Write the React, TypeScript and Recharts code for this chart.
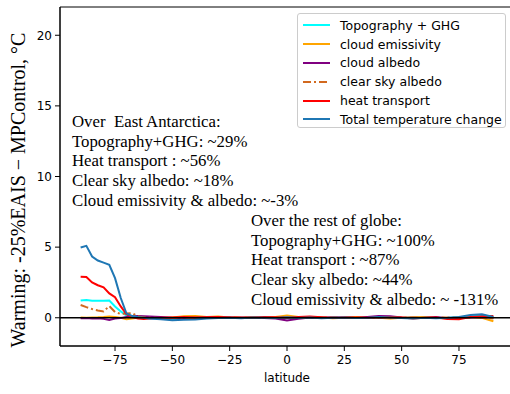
import { LineChart, Line, XAxis, YAxis, ReferenceLine, ReferenceArea } from "recharts";

const latitudes = [
  -90, -87.5, -85, -82.5, -80, -77.5, -75, -72.5, -70, -67.5, -65, -62.5,
  -60, -55, -50, -45, -40, -35, -30, -25, -20, -15, -10, -5, 0, 5, 10, 15,
  20, 25, 30, 35, 40, 45, 50, 55, 60, 65, 70, 75, 80, 85, 90,
];

const topoGhg = [
  1.22, 1.25, 1.2, 1.2, 1.2, 1.22, 0.8, 0.45, 0.15, 0.02, 0.0, -0.02,
  -0.03, -0.05, -0.08, -0.05, -0.03, 0.0, 0.02, 0.0, -0.02, 0.0, 0.02, 0.0, -0.03, 0.0, 0.02, 0.0,
  -0.02, 0.0, 0.02, 0.0, 0.03, 0.0, -0.02, 0.0, 0.02, 0.0, -0.02, 0.03, 0.08, 0.15, 0.0,
];

const cloudEmissivity = [
  0.02, 0.0, 0.02, 0.03, 0.05, 0.08, 0.05, 0.0, -0.1, -0.05, 0.0, -0.02,
  0.02, 0.0, 0.02, 0.1, 0.12, 0.05, 0.08, 0.02, 0.0, 0.03, 0.0, 0.05, 0.15, 0.05, 0.0, 0.02,
  -0.03, 0.0, 0.05, 0.02, 0.0, -0.05, 0.0, 0.03, 0.05, 0.0, -0.03, 0.02, 0.05, 0.0, -0.25,
];

const cloudAlbedo = [
  -0.03, -0.02, -0.05, -0.03, -0.08, -0.15, -0.05, -0.02, 0.05, 0.1, 0.12, 0.1,
  0.08, 0.05, 0.0, -0.02, 0.0, 0.02, 0.03, 0.0, 0.02, 0.0, -0.02, -0.05, -0.2, -0.08, 0.02, 0.0,
  0.03, 0.0, -0.02, 0.05, 0.12, 0.1, 0.02, 0.0, -0.02, 0.05, -0.03, 0.0, 0.02, 0.05, 0.0,
];

const clearSkyAlbedo = [
  0.9, 0.75, 0.62, 0.52, 0.45, 0.83, 0.4, 0.27, 0.3, 0.33, 0.1, 0.02,
  0.0, -0.02, 0.0, 0.02, 0.0, -0.02, 0.0, 0.02, 0.0, 0.0, -0.02, 0.0, 0.02, 0.0, -0.02, 0.0,
  0.02, 0.0, 0.0, -0.02, 0.0, 0.02, 0.0, 0.0, -0.02, 0.0, 0.02, 0.0, 0.03, 0.02, -0.05,
];

const heatTransport = [
  2.9, 2.88, 2.5, 2.3, 2.15, 1.72, 1.45, 0.8, 0.25, 0.05, -0.05, -0.08,
  -0.05, 0.0, 0.02, 0.05, 0.02, 0.03, 0.05, 0.03, 0.0, 0.02, 0.05, 0.03, 0.0, 0.05, 0.08, 0.03,
  -0.02, 0.03, 0.02, 0.0, 0.02, 0.05, 0.02, -0.05, 0.0, 0.02, -0.08, -0.1, 0.05, 0.1, 0.12,
];

const totalChange = [
  4.97, 5.09, 4.34, 4.05, 3.9, 3.75, 2.8, 1.4, 0.3, 0.12, 0.05, 0.0,
  -0.05, -0.1, -0.18, -0.15, -0.12, -0.05, -0.02, 0.0, -0.03, 0.02, 0.0, -0.02, 0.03, -0.02, 0.02, -0.03,
  0.0, 0.02, -0.02, 0.0, 0.05, 0.02, -0.02, -0.05, 0.0, -0.03, 0.0, 0.05, 0.2, 0.25, 0.05,
];

const xTicks = [-75, -50, -25, 0, 25, 50, 75];
const yTicks = [0, 5, 10, 15, 20];

const series = [
  { key: "topo", name: "Topography + GHG", values: topoGhg, color: "#00ffff", dash: undefined },
  { key: "emis", name: "cloud emissivity", values: cloudEmissivity, color: "#ffa500", dash: undefined },
  { key: "alb", name: "cloud albedo", values: cloudAlbedo, color: "#800080", dash: undefined },
  { key: "clear", name: "clear sky albedo", values: clearSkyAlbedo, color: "#d2691e", dash: "8 3 2 3" },
  { key: "heat", name: "heat transport", values: heatTransport, color: "#ff0000", dash: undefined },
  { key: "total", name: "Total temperature change", values: totalChange, color: "#1f77b4", dash: undefined },
];

const antarcticaNotes = [
  "Over  East Antarctica:",
  "Topography+GHG: ~29%",
  "Heat transport : ~56%",
  "Clear sky albedo: ~18%",
  "Cloud emissivity & albedo: ~-3%",
];

const globeNotes = [
  "Over the rest of globe:",
  "Topography+GHG: ~100%",
  "Heat transport : ~87%",
  "Clear sky albedo: ~44%",
  "Cloud emissivity & albedo: ~ -131%",
];

const data = latitudes.map((lat, i) => {
  const row: Record<string, number> = { lat };
  series.forEach((s) => (row[s.key] = s.values[i]));
  return row;
});

const tickStyle = { fontFamily: "DejaVu Sans", fontSize: 12, fill: "#000" };
const serif = "'Liberation Serif', 'Times New Roman', serif";

function Notes({ lines, left, top }: { lines: string[]; left: number; top: number }) {
  return (
    <div
      style={{
        position: "absolute",
        left,
        top,
        fontFamily: serif,
        fontSize: 16.8,
        lineHeight: "19.7px",
        color: "#000",
        whiteSpace: "pre",
      }}
    >
      {lines.map((l) => (
        <div key={l}>{l}</div>
      ))}
    </div>
  );
}

function LegendBox() {
  return (
    <div
      style={{
        position: "absolute",
        left: 297,
        top: 13,
        width: 209,
        height: 115,
        border: "1px solid #cccccc",
        borderRadius: 3,
        background: "rgba(255,255,255,0.8)",
        boxSizing: "border-box",
        paddingTop: 2,
      }}
    >
      {series.map((s) => (
        <div key={s.key} style={{ display: "flex", alignItems: "center", height: 18.8 }}>
          <svg width={42} height={10} style={{ flexShrink: 0 }}>
            <line
              x1={5}
              x2={32}
              y1={5}
              y2={5}
              stroke={s.color}
              strokeWidth={2}
              strokeDasharray={s.dash}
            />
          </svg>
          <span style={{ fontFamily: "DejaVu Sans", fontSize: 12.5, color: "#000" }}>{s.name}</span>
        </div>
      ))}
    </div>
  );
}

export default function App() {
  return (
    <div
      style={{
        position: "absolute",
        left: 0,
        top: 0,
        width: 510,
        height: 394,
        overflow: "hidden",
        background: "#fff",
      }}
    >
      <LineChart
        width={520}
        height={394}
        data={data}
        margin={{ top: 7, right: 6, bottom: 0, left: 0 }}
      >
        <XAxis
          dataKey="lat"
          type="number"
          domain={[-99, 99]}
          ticks={xTicks}
          height={48}
          stroke="#000"
          tick={tickStyle}
          tickSize={5}
          tickMargin={4}
          tickFormatter={(v: number) => (v < 0 ? `\u2212${Math.abs(v)}` : `${v}`)}
          label={{
            value: "latitude",
            position: "insideBottom",
            offset: 12,
            style: { fontFamily: "DejaVu Sans", fontSize: 12, fill: "#000" },
          }}
        />
        <YAxis
          type="number"
          domain={[-2, 22]}
          ticks={yTicks}
          width={60}
          stroke="#000"
          tick={tickStyle}
          tickSize={5}
          tickMargin={3}
          label={(
            <text
              x={34}
              y={186}
              transform="rotate(-90 34 186)"
              textAnchor="middle"
              style={{ fontFamily: serif, fontSize: 20, fill: "#000" }}
            >
              Warming: -25%EAIS − MPControl, °C
            </text>
          )}
        />
        <ReferenceArea x1={-99} x2={99} y1={-2} y2={22} fill="none" stroke="#000" strokeWidth={1} />
        {series.map((s) => (
          <Line
            key={s.key}
            dataKey={s.key}
            name={s.name}
            stroke={s.color}
            strokeWidth={2}
            strokeDasharray={s.dash}
            dot={false}
            activeDot={false}
            isAnimationActive={false}
          />
        ))}
        <ReferenceLine y={0} stroke="#000" strokeWidth={1.5} />
      </LineChart>
      <Notes lines={antarcticaNotes} left={72} top={112} />
      <Notes lines={globeNotes} left={251} top={211} />
      <LegendBox />
    </div>
  );
}
